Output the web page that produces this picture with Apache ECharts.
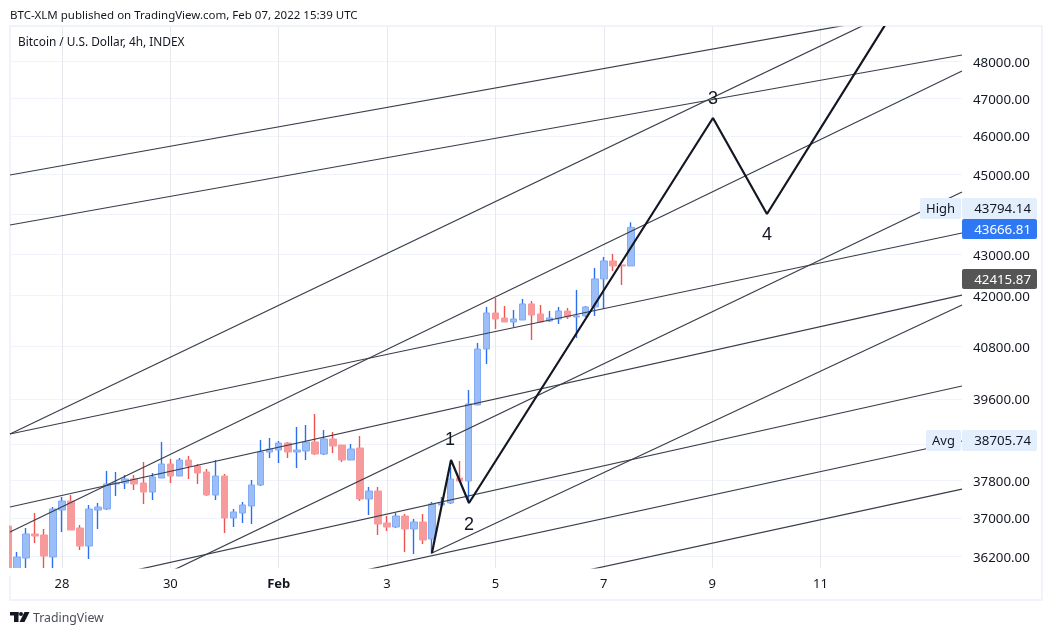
<!DOCTYPE html>
<html><head><meta charset="utf-8">
<style>html,body{margin:0;padding:0;background:#fff}#c{width:1052px;height:635px}</style>
<script src="https://cdn.jsdelivr.net/npm/echarts@6/dist/echarts.min.js"></script>
</head><body><div id="c"></div>
<script>
// candle index 0 = Jan 28 00:00, one index = 4 hours
const firstIndex = -6;
const opens  = [36835,35882,36169,36668,36647,36190,37172,37363,36793,36417,37172,37193,37727,37749,37835,37749,37555,37856,38159,37899,38246,38116,37986,37491,37899,37003,37109,37257,37706,38421,38465,38619,38421,38443,38641,38377,38707,38575,38246,38509,37406,37577,36898,36814,37045,36772,36919,36563,37278,37321,37856,37792,39465,40744,41589,41470,41376,41423,41803,41565,41400,41447,41636,41494,41518,41732,42403,42840,42743,42718];
const closes = [35843,36190,36668,36626,36210,37193,37363,36751,36417,37193,37236,37727,37749,37835,37727,37555,37878,38159,37899,38246,38116,37964,37491,37899,37003,37130,37278,37706,38421,38487,38619,38421,38465,38641,38377,38707,38553,38246,38487,37406,37577,36877,36814,37045,36772,36919,36542,37300,37321,37835,37792,39487,40744,41589,41447,41376,41447,41803,41541,41376,41470,41636,41494,41518,41732,42403,42840,42718,42718,43666.81];
const lows   = [35700,35825,35882,36479,35882,35882,36709,36751,36334,36149,36772,37172,37470,37620,37598,37300,37385,37856,37749,37899,37835,37727,37470,37385,36688,36814,36898,36877,37684,38290,38181,38290,38072,38246,38355,38355,38399,38203,38246,37363,37066,36647,36730,36793,36293,36252,36459,36252,37278,37300,37792,37342,39465,40398,41212,41376,41259,41423,40954,41376,41376,41329,41447,41000,41494,41518,41684,42597,42258,42718];
const highs  = [36877,36293,36793,37109,36772,37236,37449,37491,36856,37278,37321,38007,37986,37921,37921,38203,37964,38641,38268,38290,38334,38159,38051,38246,37943,37193,37342,37813,38685,38729,38663,38641,38973,39017,39262,38906,38862,38575,38597,38773,37663,37663,37045,37109,37088,36982,37088,37342,37449,38094,38225,39803,40884,41732,41946,41755,41660,41922,41874,41779,41636,41732,41708,42138,41755,42670,42938,43012,42743,43794.14];

const xMin = -5.76, xMax = 99.67, yMin = 35964, yMax = 48949;
const xTickValues = [0,12,24,36,48,60,72,84];
const xTickLabels = ['28','30','Feb','3','5','7','9','11'];
const yGridValues = [36200,37000,37800,38600,39600,40800,42000,43000,44000,45000,46000,47000,48000];
const yLabelValues = [36200,37000,37800,39600,40800,42000,43000,45000,46000,47000,48000];

// drawn trend lines: [index, price] end points
const trendLines = [
  [[-5.76,44990],[90.0,49145]],
  [[-5.76,43726],[99.67,48174]],
  [[-5.76,38817],[90.0,49145]],
  [[-5.76,38817],[99.67,43528]],
  [[-5.76,37236],[99.67,42016]],
  [[-5.76,36709],[99.67,47737]],
  [[11.2,35820],[99.67,44557]],
  [[5.7,35820],[99.67,39893]],
  [[40.97,36272],[99.67,41778]],
  [[31.07,35820],[99.67,38663]],
  [[55.7,35820],[99.67,37619]]
];
const wavePath = [[40.97,36272],[43.08,38246],[45.07,37321],[72.09,46475],[78.07,44002],[91.5,49145]];
const waveLabels = [['1',42.97,38674],['2',45.07,36856],['3',72.09,46980],['4',78.07,43470]];

const FONT = '"Noto Sans", sans-serif';
const idx = opens.map((_, i) => firstIndex + i);
const wickData = idx.map((x, i) => [x, opens[i], closes[i], lows[i], highs[i]]);
const bodyData = idx.map((x, i) => [x, opens[i], closes[i], Math.min(opens[i], closes[i]), Math.max(opens[i], closes[i])]);

const series = [
  { type:'candlestick', name:'wicks', data:wickData, barWidth:1, encode:{x:0,y:[1,2,3,4]}, z:2,
    itemStyle:{color:'#2a6ff0',color0:'#ef5350',borderColor:'#2a6ff0',borderColor0:'#ef5350',borderWidth:1.4} },
  { type:'candlestick', name:'bodies', data:bodyData, barWidth:7, encode:{x:0,y:[1,2,3,4]}, z:3,
    itemStyle:{color:'#9bbdf8',color0:'#f79a9c',borderColor:'#82abf6',borderColor0:'#f79a9c',borderWidth:1} }
];
trendLines.forEach(l => series.push({ type:'line', data:l, symbol:'none', silent:true, z:14,
  lineStyle:{color:'#3a3e4a',width:1.2} }));
series.push({ type:'line', data:wavePath, symbol:'none', z:15, lineStyle:{color:'#131722',width:2.2} });
series.push({ type:'scatter', data:waveLabels.map(d => [d[1], d[2], d[0]]), symbolSize:0, z:16,
  label:{show:true, position:'inside', formatter:p => p.value[2], fontFamily:'"Liberation Sans", sans-serif', fontSize:18, color:'#131722', opacity:1} });

function box(x,y,w,h,fill){ return {type:'rect',z:50,shape:{x,y,width:w,height:h,r:2},style:{fill}}; }
function txt(x,y,t,fill,size,align){ return {type:'text',z:51,x,y,style:{text:t,fill,font:(size||13)+'px '+FONT,textAlign:align||'left',textVerticalAlign:'middle'}}; }

const graphic = [
  {type:'rect',z:1,shape:{x:10,y:26,width:1032,height:574},style:{fill:'none',stroke:'#f0f3fa',lineWidth:2}},
  {type:'rect',z:10,shape:{x:0,y:27,width:9,height:550},style:{fill:'#fff'}},
  {type:'rect',z:10,shape:{x:9,y:568,width:960,height:8},style:{fill:'#fff'}},
  txt(10,15.5,'BTC-XLM published on TradingView.com, Feb 07, 2022 15:39 UTC','#131722',11.5),
  txt(18,42.5,'Bitcoin / U.S. Dollar, 4h, INDEX','#131722',11.85),
  box(920,198,41,21,'#e3effd'), txt(940.5,209,'High','#131722',13,'center'),
  box(962,198,75,21,'#e3effd'), txt(1031,209.5,'43794.14','#131722',13.3,'right'),
  box(962,219,75,20,'#2f78f4'), txt(1031,230.5,'43666.81','#ffffff',13.3,'right'),
  box(962,269,75,20,'#555555'), txt(1031,280.5,'42415.87','#ffffff',13.3,'right'),
  box(926,430,35,21,'#e3effd'), txt(943.5,441,'Avg','#131722',13,'center'),
  box(962,430,75,21,'#e3effd'), txt(1031,441.5,'38705.74','#131722',13.3,'right'),
  {type:'rect',z:51,shape:{x:10,y:612,width:8.5,height:3.5},style:{fill:'#131722'}},
  {type:'rect',z:51,shape:{x:14,y:612,width:4.5,height:10},style:{fill:'#131722'}},
  {type:'circle',z:51,shape:{cx:21,cy:614,r:2},style:{fill:'#131722'}},
  {type:'polygon',z:51,shape:{points:[[24.5,612],[29.5,612],[24.5,622],[19.5,622]]},style:{fill:'#131722'}},
  txt(33,618.5,'TradingView','#4a4e5a',12.3)
];

const chart = echarts.init(document.getElementById('c'), null, {renderer:'canvas'});
chart.setOption({
  animation:false, backgroundColor:'#fff', graphic,
  grid:{left:10,right:90,top:27,bottom:67,containLabel:false},
  xAxis:{type:'value',min:xMin,max:xMax,
    axisLine:{show:false},
    axisTick:{show:false,customValues:xTickValues},
    splitLine:{show:true,lineStyle:{color:'#e6e8ed',width:1}},
    axisLabel:{show:true,customValues:xTickValues,margin:10,fontFamily:FONT,fontSize:13,color:'#131722',
      formatter:v => { const s = xTickLabels[xTickValues.indexOf(v)]; return s==='Feb' ? '{b|Feb}' : s; },
      rich:{b:{fontWeight:'bold',fontFamily:FONT,fontSize:13,color:'#131722'}}}},
  yAxis:{type:'log',logBase:10,position:'right',min:yMin,max:yMax,
    axisLine:{show:false},
    axisTick:{show:false,customValues:yGridValues},
    splitLine:{show:true,lineStyle:{color:'#f0f3fa',width:1}},
    minorSplitLine:{show:false},
    axisLabel:{show:true,customValues:yLabelValues,margin:11,fontFamily:FONT,fontSize:13.3,color:'#131722',
      formatter:v => '{p|' + Number(v).toFixed(2) + '}',
      rich:{p:{fontFamily:FONT,fontSize:13.3,color:'#131722',padding:[3,0,0,0]}}}},
  series
});
</script></body></html>
